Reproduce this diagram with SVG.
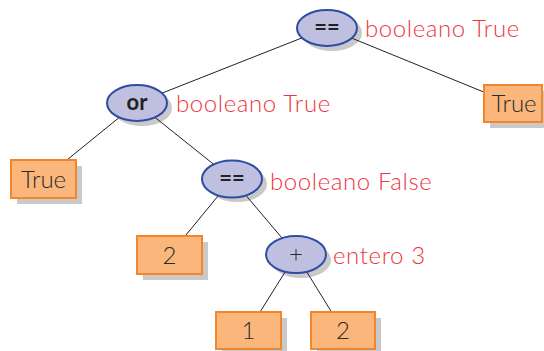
<svg xmlns="http://www.w3.org/2000/svg" width="544" height="351" viewBox="0 0 544 351">
<style>
.sh{fill:#c9c9c9}
.op ellipse.f{fill:#bfc0e0;stroke:#2f4ba2;stroke-width:2}
.lf rect.f{fill:#fbb77b;stroke:#f2862c;stroke-width:2}
text{font-family:Lato,"Open Sans","DejaVu Sans",sans-serif;fill:#2a2a2a}
.t{font-size:24px;text-anchor:middle;font-weight:300}
.b{font-weight:bold;font-size:22px;text-anchor:middle;fill:#222}
.lab{font-size:24px;fill:#ee3640;font-weight:300;letter-spacing:0.6px}
.con line{stroke:#222;stroke-width:1}
</style>
<rect width="544" height="351" fill="#fff"/>
<g id="shadows">
<ellipse class="sh" cx="332" cy="33" rx="30" ry="18"/>
<ellipse class="sh" cx="142" cy="108" rx="30" ry="18"/>
<ellipse class="sh" cx="237" cy="184" rx="30" ry="18"/>
<ellipse class="sh" cx="301" cy="260" rx="30" ry="18"/>
<rect class="sh" x="490" y="91" width="58" height="37"/>
<rect class="sh" x="17" y="166" width="65" height="38"/>
<rect class="sh" x="143" y="242" width="65" height="38"/>
<rect class="sh" x="222" y="318" width="65" height="37"/>
<rect class="sh" x="317" y="318" width="64" height="37"/>
</g>
<g id="connectors" class="con">
<line x1="327" y1="28" x2="137" y2="103"/>
<line x1="327" y1="28" x2="513" y2="104"/>
<line x1="137" y1="103" x2="43.5" y2="179"/>
<line x1="137" y1="103" x2="232" y2="179"/>
<line x1="232" y1="179" x2="169.5" y2="255"/>
<line x1="232" y1="179" x2="296" y2="254.5"/>
<line x1="296" y1="254.5" x2="248.5" y2="330.5"/>
<line x1="296" y1="254.5" x2="343" y2="330.5"/>
</g>
<g id="n-eq-top" class="op">
<ellipse class="f" cx="327" cy="28" rx="30" ry="18"/>
<text class="b" x="327" y="35">==</text>
<text class="lab" x="365" y="37">booleano True</text>
</g>
<g id="n-true-right" class="lf">
<rect class="f" x="484" y="85" width="58" height="37"/>
<text class="t" x="514" y="112">True</text>
</g>
<g id="n-or" class="op">
<ellipse class="f" cx="137" cy="103" rx="30" ry="18"/>
<text class="b" x="137" y="110">or</text>
<text class="lab" x="176" y="112">booleano True</text>
</g>
<g id="n-true-left" class="lf">
<rect class="f" x="11" y="160" width="65" height="38"/>
<text class="t" x="43.5" y="188">True</text>
</g>
<g id="n-eq-mid" class="op">
<ellipse class="f" cx="232" cy="179" rx="30" ry="18.5"/>
<text class="b" x="232" y="186">==</text>
<text class="lab" x="270" y="190">booleano False</text>
</g>
<g id="n-2-left" class="lf">
<rect class="f" x="137" y="236" width="65" height="38"/>
<text class="t" x="169.5" y="264">2</text>
</g>
<g id="n-plus" class="op">
<ellipse class="f" cx="296" cy="254.5" rx="30" ry="18.5"/>
<text class="t" x="296" y="262">+</text>
<text class="lab" x="333" y="264">entero 3</text>
</g>
<g id="n-1" class="lf">
<rect class="f" x="216" y="312" width="65" height="37"/>
<text class="t" x="248.5" y="339">1</text>
</g>
<g id="n-2-right" class="lf">
<rect class="f" x="311" y="312" width="64" height="37"/>
<text class="t" x="343" y="339">2</text>
</g>
</svg>
